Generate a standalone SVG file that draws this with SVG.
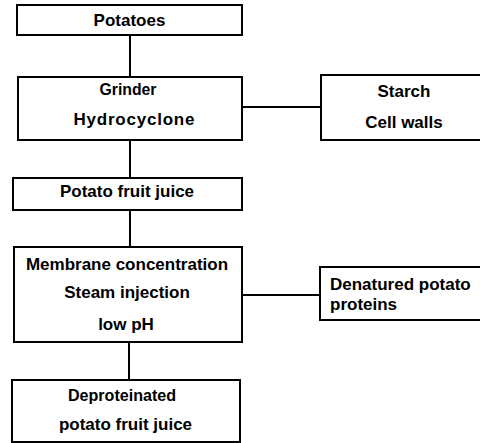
<svg xmlns="http://www.w3.org/2000/svg" width="480" height="443" viewBox="0 0 480 443">
<style>
.box{fill:#fff;stroke:#000;stroke-width:2}
.ln{stroke:#000;stroke-width:2;fill:none}
text{font-family:"Liberation Sans",Arial,sans-serif;font-weight:bold;font-size:17px;fill:#000}
.c{text-anchor:middle}
</style>
<rect width="480" height="443" fill="#fff"/>
<g id="connectors">
<line class="ln" x1="130" y1="35" x2="130" y2="77"/>
<line class="ln" x1="242" y1="107" x2="321" y2="107"/>
<line class="ln" x1="130" y1="140" x2="130" y2="178"/>
<line class="ln" x1="130" y1="210" x2="130" y2="247"/>
<line class="ln" x1="242" y1="295" x2="320" y2="295"/>
<line class="ln" x1="129" y1="342" x2="129" y2="380"/>
</g>
<g id="potatoes">
<rect class="box" x="17" y="5" width="225" height="30"/>
<text class="c" x="129.5" y="26">Potatoes</text>
</g>
<g id="grinder">
<rect class="box" x="18" y="77" width="224" height="63"/>
<text class="c" x="128" y="95" textLength="57" lengthAdjust="spacingAndGlyphs">Grinder</text>
<text class="c" x="134" y="125" textLength="121">Hydrocyclone</text>
</g>
<g id="starch">
<rect class="box" x="321" y="75" width="168" height="65"/>
<text class="c" x="404" y="97">Starch</text>
<text class="c" x="404" y="128">Cell walls</text>
</g>
<g id="juice">
<rect class="box" x="13" y="178" width="229" height="32"/>
<text class="c" x="127" y="197">Potato fruit juice</text>
</g>
<g id="membrane">
<rect class="box" x="14" y="247" width="228" height="95"/>
<text class="c" x="127" y="270">Membrane  concentration</text>
<text class="c" x="127" y="298">Steam injection</text>
<text class="c" x="126" y="330">low pH</text>
</g>
<g id="denatured">
<rect class="box" x="320" y="267" width="169" height="53"/>
<text x="330" y="290">Denatured  potato</text>
<text x="330" y="310">proteins</text>
</g>
<g id="deproteinated">
<rect class="box" x="12" y="380" width="228" height="62"/>
<text class="c" x="122" y="401" textLength="108" lengthAdjust="spacingAndGlyphs">Deproteinated</text>
<text class="c" x="125.5" y="430">potato fruit juice</text>
</g>
</svg>
